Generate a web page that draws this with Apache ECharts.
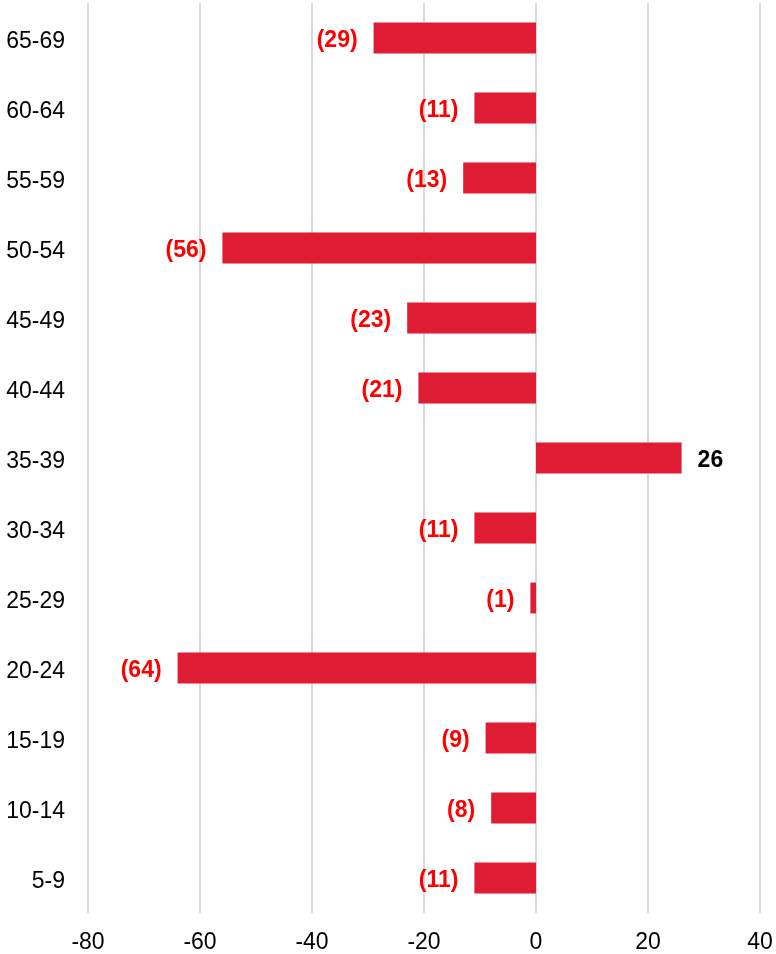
<!DOCTYPE html>
<html>
<head>
<meta charset="utf-8">
<script src="https://cdn.jsdelivr.net/npm/echarts@6/dist/echarts.min.js"></script>
<style>
  html, body { margin: 0; padding: 0; background: #fff; }
  #chart { width: 776px; height: 954px; }
</style>
</head>
<body>
<div id="chart"></div>
<script>
// Age groups, bottom to top
const ageGroups = ['5-9', '10-14', '15-19', '20-24', '25-29', '30-34', '35-39',
                   '40-44', '45-49', '50-54', '55-59', '60-64', '65-69'];
// Net change per age group
const netChange = [-11, -8, -9, -64, -1, -11, 26, -21, -23, -56, -13, -11, -29];
// Value axis ticks
const axisMin = -80;
const axisMax = 40;
const axisStep = 20;

const chart = echarts.init(document.getElementById('chart'));

const seriesData = netChange.map(v => ({
  value: v,
  label: {
    position: v < 0 ? 'left' : 'right',
    color: v < 0 ? '#FF0000' : '#000000'
  }
}));

chart.setOption({
  animation: false,
  grid: { left: 88, right: 16, top: 3, bottom: 40, containLabel: false },
  xAxis: {
    type: 'value',
    min: axisMin,
    max: axisMax,
    interval: axisStep,
    axisLine: { show: false },
    axisTick: { show: false },
    axisLabel: {
      fontFamily: 'Liberation Sans, Arial, sans-serif',
      fontSize: 23,
      color: '#000',
      margin: 18
    },
    splitLine: { show: true, lineStyle: { color: '#d9d9d9', width: 2 } }
  },
  yAxis: {
    type: 'category',
    data: ageGroups,
    axisLine: { show: false },
    axisTick: { show: false },
    axisLabel: {
      fontFamily: 'Liberation Sans, Arial, sans-serif',
      fontSize: 23,
      color: '#000',
      margin: 23,
      align: 'right',
      verticalAlign: 'top',
      lineHeight: 8
    },
    splitLine: { show: false }
  },
  series: [{
    type: 'bar',
    data: seriesData,
    barWidth: '44%',
    itemStyle: { color: '#E01B34' },
    label: {
      show: true,
      distance: 16,
      offset: [0, 3],
      fontFamily: 'Liberation Sans, Arial, sans-serif',
      fontSize: 23,
      fontWeight: 'bold',
      formatter: p => p.value < 0 ? '(' + Math.abs(p.value) + ')' : String(p.value)
    }
  }]
});
</script>
</body>
</html>
